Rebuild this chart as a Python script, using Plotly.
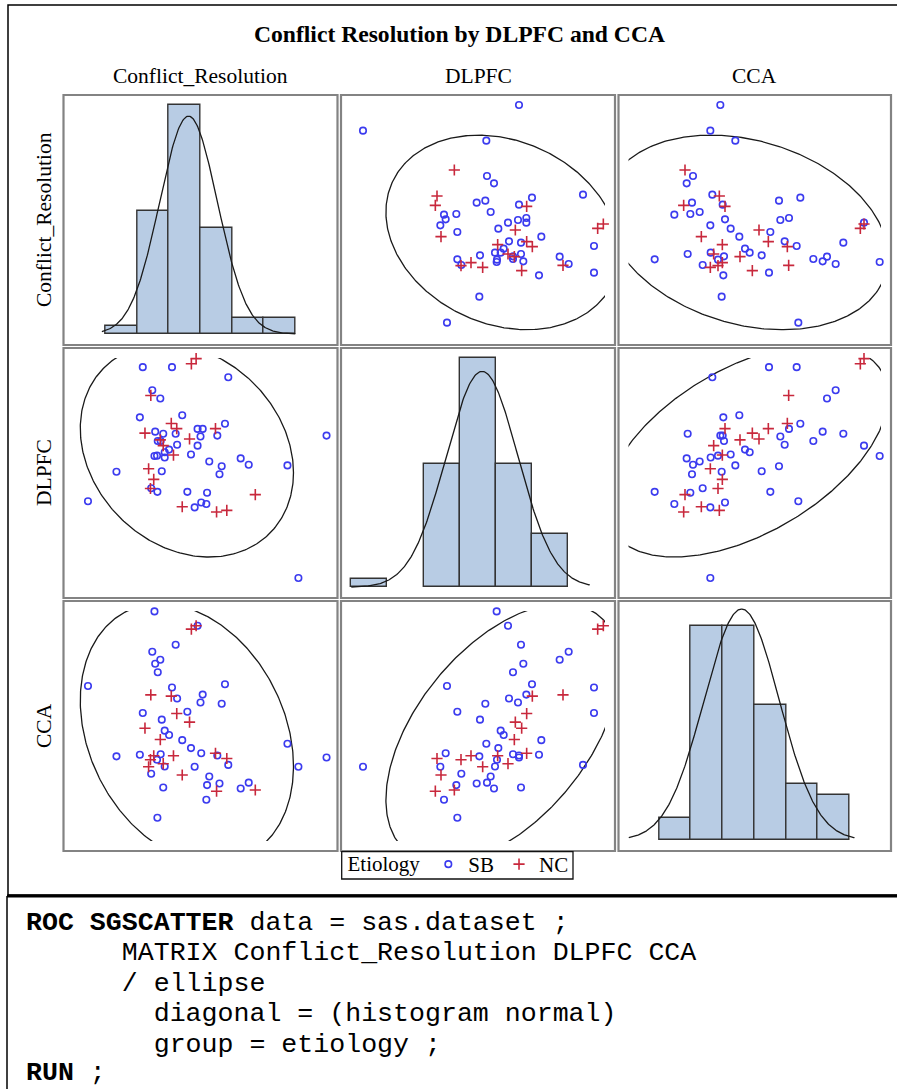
import numpy as np
import plotly.graph_objects as go

# ---------------- data ----------------
variables = ["Conflict_Resolution", "DLPFC", "CCA"]

# Etiology = SB (blue circles)
sb_cr = [71.5, 63.8, 60.8, 50.2, 48.0, 43.7, 42.8, 44.6, 42.2, 41.6, 38.6, 38.8, 39.4, 37.2, 36.2,
         35.4, 37.0, 37.6, 36.2, 34.4, 33.4, 32.0, 30.6, 30.2, 29.2, 26.8, 27.2, 26.1, 28.4, 27.2,
         26.4, 25.1, 23.5, 25.2, 25.3, 24.6, 26.0, 23.8, 24.4, 20.4, 21.2, 14.0, 6.2]
sb_dlpfc = [54.3, 7.5, 44.5, 44.7, 46.8, 58.2, 44.2, 73.5, 41.6, 54.3, 31.8, 35.5, 45.8, 32.3, 56.5,
            30.7, 54.0, 56.5, 51.0, 48.1, 35.8, 61.0, 51.3, 54.9, 76.8, 54.9, 47.1, 52.5, 49.7, 48.8,
            42.6, 47.7, 37.0, 35.8, 52.5, 55.6, 66.5, 69.2, 47.6, 60.3, 76.8, 42.4, 32.7]
sb_cca = [31.6, 28.6, 36.1, 23.4, 21.5, 55.6, 49.2, 29.2, 23.1, 32.3, 17.8, 22.6, 25.4, 33.0, 3.8,
          28.6, 49.6, 52.2, 74.7, 34.7, 46.6, 37.3, 50.9, 68.5, 54.5, 21.8, 28.7, 32.7, 39.0, 40.4,
          44.0, 30.9, 26.3, 11.9, 59.5, 62.3, 63.6, 66.2, 79.4, 32.5, 46.2, 32.0, 55.0]

# Etiology = NC (red plus signs)
nc_cr = [52.0, 44.2, 41.4, 41.1, 32.0, 34.0, 34.5, 35.8, 29.6, 30.5, 29.0, 26.8, 26.0, 24.2, 23.3,
         22.8, 21.8, 23.4]
nc_dlpfc = [34.9, 29.7, 29.2, 56.6, 30.9, 53.2, 77.9, 79.6, 47.9, 56.6, 58.3, 51.0, 52.9, 39.9, 36.9,
            43.4, 55.1, 67.5]
nc_cca = [21.0, 31.3, 20.6, 33.0, 25.9, 43.2, 73.6, 74.7, 32.2, 46.0, 51.7, 29.6, 37.5, 32.2, 30.9,
          28.6, 41.2, 52.1]

# histogram binning of the diagonal cells
hist_start = [0.5, -0.6, 3.1]
hist_size = [12.5, 13.8, 14.0]
hist_nbins = 6

code_lines = [
    "<b>ROC SGSCATTER</b> data = sas.dataset ;",
    "MATRIX Conflict_Resolution DLPFC CCA",
    "/ ellipse",
    "diagonal = (histogram normal)",
    "group = etiology ;",
    "<b>RUN</b> ;",
]
code_indent = [0, 6, 6, 8, 8, 0]

# ---------------- layout geometry / styles ----------------
W, H = 897, 1089
cols_px = [(63.5, 337.5), (341.0, 615.0), (618.5, 891.0)]
rows_px = [(95.0, 345.0), (348.0, 598.0), (601.0, 851.0)]
INSET = 10.0  # scatter data area is inset from the cell border (clip region)
# axis ranges measured across the full cell (border to border)
scatter_range = [[-0.5, 74.5], [0.9, 83.1], [1.05, 82.8]]
hist_xrange = [[-16.2, 92.2], [-4.54, 100.2], [-14.94, 105.5]]
hist_yrange = [[-1.345, 29.2], [-1.21, 27.13], [-0.95, 21.2]]

BLUE = "#3b3bef"
RED = "#c8283c"
FILL = "#b8cce4"
SERIF = "Liberation Serif, Times New Roman, serif"
MONO = "Liberation Mono, Courier New, monospace"


def px_x(p):
    return p / W


def px_y(p):
    return 1 - p / H


def inset_range(rng, p0, p1, inset):
    f = inset / (p1 - p0)
    span = rng[1] - rng[0]
    return [rng[0] + span * f, rng[1] - span * f]


sb_vals = [sb_cr, sb_dlpfc, sb_cca]
nc_vals = [nc_cr, nc_dlpfc, nc_cca]
all_vals = [np.array(a + b, dtype=float) for a, b in zip(sb_vals, nc_vals)]
n = len(all_vals[0])
p = 2
# 95% prediction ellipse constant (F(2, n-2) quantile has a closed form)
f_q = (n - p) / 2.0 * (0.05 ** (-2.0 / (n - p)) - 1.0)
c2 = p * (n - 1) * (n + 1) / (n * (n - p)) * f_q

fig = go.Figure()
layout = dict(
    width=W, height=H, margin=dict(l=0, r=0, t=0, b=0),
    paper_bgcolor="white", plot_bgcolor="white", bargap=0,
    showlegend=True,
)

axis_common = dict(showticklabels=False, showgrid=False, zeroline=False, ticks="",
                   showline=False, fixedrange=True)

shapes = []
first_sb = True
first_nc = True
for r in range(3):
    for c in range(3):
        k = 3 * r + c + 1
        xs = "x" if k == 1 else f"x{k}"
        ys = "y" if k == 1 else f"y{k}"
        xname = "xaxis" if k == 1 else f"xaxis{k}"
        yname = "yaxis" if k == 1 else f"yaxis{k}"
        c0, c1 = cols_px[c]
        r0, r1 = rows_px[r]
        if r == c:
            xr = hist_xrange[r]
            yr = hist_yrange[r]
            ins = 0.0
        else:
            xr = scatter_range[c]
            yr = scatter_range[r]
            ins = INSET
        layout[xname] = dict(axis_common, domain=[px_x(c0 + ins), px_x(c1 - ins)],
                             anchor=ys, range=inset_range(xr, c0, c1, ins))
        layout[yname] = dict(axis_common, domain=[px_y(r1 - ins), px_y(r0 + ins)],
                             anchor=xs, range=inset_range(yr, r0, r1, ins))
        shapes.append(dict(type="rect", xref="paper", yref="paper",
                           x0=px_x(c0), x1=px_x(c1), y0=px_y(r1), y1=px_y(r0),
                           line=dict(color="#838383", width=2.2)))
        if r == c:
            v = all_vals[r]
            start = hist_start[r]
            size = hist_size[r]
            end = start + hist_nbins * size
            fig.add_trace(go.Histogram(
                x=v, xbins=dict(start=start, end=end, size=size), autobinx=False,
                marker=dict(color=FILL, line=dict(color="#333333", width=1.4)),
                xaxis=xs, yaxis=ys, showlegend=False, hoverinfo="skip"))
            mu = v.mean()
            sd = v.std(ddof=1)
            lo = min(start, mu - 3 * sd)
            hi = max(end, mu + 3 * sd)
            gx = np.linspace(lo, hi, 300)
            gy = n * size * np.exp(-0.5 * ((gx - mu) / sd) ** 2) / (sd * np.sqrt(2 * np.pi))
            fig.add_trace(go.Scatter(x=gx, y=gy, mode="lines",
                                     line=dict(color="#1a1a1a", width=1.3),
                                     xaxis=xs, yaxis=ys, showlegend=False, hoverinfo="skip"))
        else:
            vx = all_vals[c]
            vy = all_vals[r]
            mean = np.array([vx.mean(), vy.mean()])
            cov = np.cov(vx, vy)
            L = np.linalg.cholesky(cov)
            t = np.linspace(0, 2 * np.pi, 400)
            pts = mean[:, None] + np.sqrt(c2) * (L @ np.vstack([np.cos(t), np.sin(t)]))
            fig.add_trace(go.Scatter(x=pts[0], y=pts[1], mode="lines",
                                     line=dict(color="#1a1a1a", width=1.3),
                                     xaxis=xs, yaxis=ys, showlegend=False, hoverinfo="skip"))
            fig.add_trace(go.Scatter(
                x=sb_vals[c], y=sb_vals[r], mode="markers", name="SB", legendgroup="SB",
                showlegend=first_sb, cliponaxis=False,
                marker=dict(symbol="circle-open", size=6.5, color=BLUE, line=dict(width=1.6, color=BLUE)),
                xaxis=xs, yaxis=ys))
            first_sb = False
            fig.add_trace(go.Scatter(
                x=nc_vals[c], y=nc_vals[r], mode="markers", name="NC", legendgroup="NC",
                showlegend=first_nc, cliponaxis=False,
                marker=dict(symbol="cross-thin-open", size=8, color=RED, line=dict(width=1.6, color=RED)),
                xaxis=xs, yaxis=ys))
            first_nc = False

layout["legend"] = dict(
    orientation="h", x=px_x(345.5), y=px_y(844), xanchor="left", yanchor="top",
    bgcolor="rgba(0,0,0,0)", borderwidth=0,
    font=dict(family=SERIF, size=21, color="black"),
    title=dict(text="Etiology", font=dict(family=SERIF, size=21, color="black")),
    itemwidth=30, tracegroupgap=0, traceorder="normal",
)
# legend frame
shapes.append(dict(type="rect", xref="paper", yref="paper", x0=px_x(341.7), x1=px_x(573),
                   y0=px_y(879), y1=px_y(851.7), line=dict(color="#111111", width=1.3)))

annotations = []
annotations.append(dict(text="<b>Conflict Resolution by DLPFC and CCA</b>", x=px_x(459), y=px_y(34),
                        xref="paper", yref="paper", showarrow=False, xanchor="center", yanchor="middle",
                        font=dict(family=SERIF, size=23.6, color="black")))
for i, name in enumerate(variables):
    cx = (cols_px[i][0] + cols_px[i][1]) / 2
    annotations.append(dict(text=name, x=px_x(cx), y=px_y(76), xref="paper", yref="paper",
                            showarrow=False, xanchor="center", yanchor="middle",
                            font=dict(family=SERIF, size=21.5, color="black")))
    cy = (rows_px[i][0] + rows_px[i][1]) / 2
    annotations.append(dict(text=name, x=px_x(44), y=px_y(cy), xref="paper", yref="paper",
                            showarrow=False, xanchor="center", yanchor="middle", textangle=-90,
                            font=dict(family=SERIF, size=21.5, color="black")))

last = len(code_lines) - 1
for i, (line, ind) in enumerate(zip(code_lines, code_indent)):
    if i == last:
        ypos, yanc = px_y(1088.5), "bottom"
    else:
        ypos, yanc = px_y(922.5 + 30.6 * i), "middle"
    annotations.append(dict(text="\u00a0" * ind + line, x=px_x(25), y=ypos,
                            xref="paper", yref="paper", showarrow=False,
                            xanchor="left", yanchor=yanc, borderpad=0,
                            font=dict(family=MONO, size=26.6, color="black")))
layout["annotations"] = annotations

shapes += [
    dict(type="rect", xref="paper", yref="paper", x0=px_x(8), x1=px_x(905), y0=px_y(895), y1=px_y(5),
         line=dict(color="black", width=1.5)),
    dict(type="line", xref="paper", yref="paper", x0=px_x(7), x1=px_x(900), y0=px_y(896), y1=px_y(896),
         line=dict(color="black", width=3)),
    dict(type="line", xref="paper", yref="paper", x0=px_x(7), x1=px_x(7), y0=px_y(896), y1=px_y(1095),
         line=dict(color="black", width=1.5)),
]
layout["shapes"] = shapes

fig.update_layout(**layout)
fig.write_html("out.html")
